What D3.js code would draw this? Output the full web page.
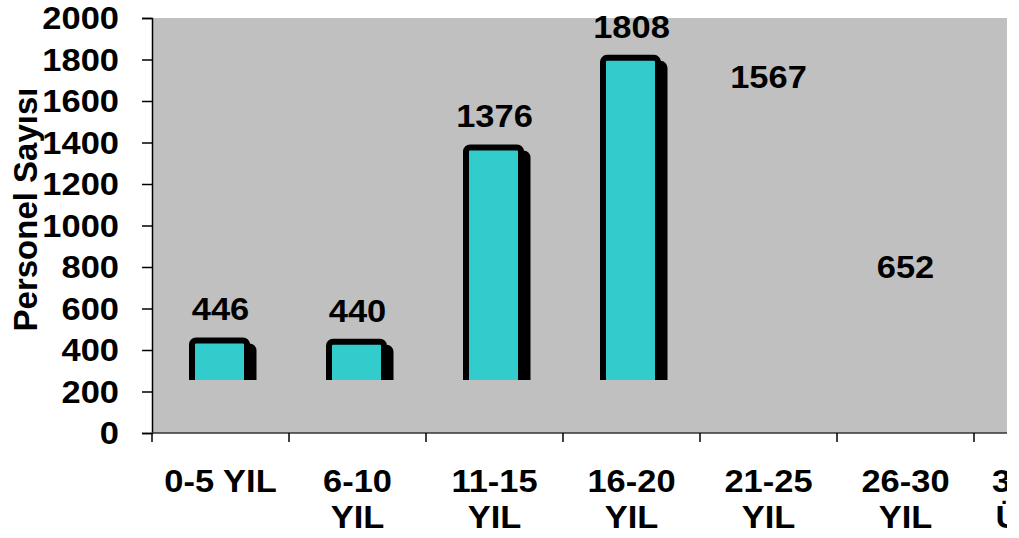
<!DOCTYPE html>
<html>
<head>
<meta charset="utf-8">
<script src="https://cdn.jsdelivr.net/npm/d3@7"></script>
<style>
  body { margin: 0; background: #fff; }
  text { font-family: Arial, "Liberation Sans", sans-serif; font-weight: bold; fill: #000; }
</style>
</head>
<body>
<div id="chart"></div>
<script>
// chart data
var categories = ["0-5 YIL", "6-10 YIL", "11-15 YIL", "16-20 YIL", "21-25 YIL", "26-30 YIL", "30 YIL ÜSTÜ"];
var values = [446, 440, 1376, 1808, 1567, 652, null];
var barShown = [true, true, true, true, false, false, false];
var yTicks = [0, 200, 400, 600, 800, 1000, 1200, 1400, 1600, 1800, 2000];
var yTitle = "Personel Sayısı";

var svg_width = 1019;
var svg_height = 538;
var sx = 1.13; // text in the picture is a bit wider than normal

var margin = { top: 18, left: 152 };
var bandW = 137;
var chartHeight = 415;

var svg = d3.select("#chart")
    .append("svg")
    .attr("width", svg_width)
    .attr("height", svg_height);

svg.append("clipPath").attr("id", "cut")
    .append("rect").attr("x", 0).attr("y", 0).attr("width", 1007).attr("height", svg_height);

var root = svg.append("g").attr("clip-path", "url(#cut)");

// scales
var xScale = d3.scaleBand()
    .domain(categories)
    .range([margin.left, margin.left + bandW * categories.length])
    .padding(0);

var yScale = d3.scaleLinear()
    .domain([0, 2000])
    .range([margin.top + chartHeight, margin.top]);

var y0 = yScale(0);

// plot background
root.append("rect")
    .attr("x", margin.left)
    .attr("y", margin.top)
    .attr("width", 1007 - margin.left)
    .attr("height", chartHeight)
    .attr("fill", "#c0c0c0");

// y axis
var left_axis = d3.axisLeft(yScale).tickValues(yTicks).tickSize(10).tickFormat("");
root.append("g")
    .attr("transform", `translate(${margin.left}, 0)`)
    .call(left_axis)
    .call(g => g.selectAll("path, line").attr("stroke", "#000").attr("stroke-width", 1.5));

root.append("g").selectAll("text")
    .data(yTicks)
    .enter()
    .append("text")
    .attr("transform", d => `translate(119, ${yScale(d) + 11}) scale(${sx},1)`)
    .attr("text-anchor", "end")
    .attr("font-size", 30.5)
    .text(d => d);

// x axis: line and ticks on band edges
root.append("line")
    .attr("x1", margin.left).attr("x2", 1007)
    .attr("y1", y0).attr("y2", y0)
    .attr("stroke", "#333").attr("stroke-width", 1.5);

var edges = categories.map(c => xScale(c)).concat([xScale.range()[1]]);
root.append("g").selectAll("line")
    .data(edges)
    .enter()
    .append("line")
    .attr("x1", d => d).attr("x2", d => d)
    .attr("y1", y0).attr("y2", y0 + 9)
    .attr("stroke", "#000").attr("stroke-width", 1.5);

// category labels, wrapped to the band width
function wrapLabel(label, maxW) {
    var words = label.split(" ");
    var lines = [];
    var cur = "";
    var probe = svg.append("text").attr("font-size", 30.5);
    words.forEach(function(w) {
        var test = cur ? cur + " " + w : w;
        probe.text(test);
        if (cur && probe.node().getComputedTextLength() * sx > maxW) {
            lines.push(cur);
            cur = w;
        } else {
            cur = test;
        }
    });
    lines.push(cur);
    probe.remove();
    return lines;
}

categories.forEach(function(c) {
    var lines = wrapLabel(c, 125);
    var cx = xScale(c) + bandW / 2;
    lines.forEach(function(line, i) {
        root.append("text")
            .attr("transform", `translate(${cx}, ${492 + i * 36}) scale(${sx},1)`)
            .attr("text-anchor", "middle")
            .attr("font-size", 30.5)
            .text(line);
    });
});

// bars (the drawn bars stop short of the axis in the picture)
var barFloor = yScale(255);
svg.append("clipPath").attr("id", "floor")
    .append("rect").attr("x", 0).attr("y", 0).attr("width", svg_width).attr("height", barFloor);

var barW = 55;
var barData = categories.map((c, i) => ({ cat: c, value: values[i], shown: barShown[i] }))
    .filter(d => d.shown && d.value != null);

var barsGrp = root.append("g").attr("clip-path", "url(#floor)");

// shadow
barsGrp.selectAll("rect.shadow")
    .data(barData)
    .enter()
    .append("rect")
    .attr("class", "shadow")
    .attr("x", d => xScale(d.cat) + bandW / 2 - 1 - barW / 2 + 6.5)
    .attr("y", d => yScale(d.value) + 6)
    .attr("width", barW)
    .attr("height", d => y0 - yScale(d.value))
    .attr("rx", 4)
    .attr("fill", "#000")
    .attr("stroke", "#000")
    .attr("stroke-width", 6);

barsGrp.selectAll("rect.bar")
    .data(barData)
    .enter()
    .append("rect")
    .attr("class", "bar")
    .attr("x", d => xScale(d.cat) + bandW / 2 - 1 - barW / 2)
    .attr("y", d => yScale(d.value))
    .attr("width", barW)
    .attr("height", d => y0 - yScale(d.value))
    .attr("rx", 4)
    .attr("fill", "#33cccc")
    .attr("stroke", "#000")
    .attr("stroke-width", 6);

// value labels
root.append("g").selectAll("text")
    .data(categories.map((c, i) => ({ cat: c, value: values[i] })).filter(d => d.value != null))
    .enter()
    .append("text")
    .attr("transform", d => `translate(${xScale(d.cat) + bandW / 2}, ${yScale(d.value) - 20}) scale(${sx},1)`)
    .attr("text-anchor", "middle")
    .attr("font-size", 30.5)
    .text(d => d.value);

// y axis title
svg.append("text")
    .attr("transform", "translate(36.5, 209.5) rotate(-90)")
    .attr("text-anchor", "middle")
    .attr("font-size", 33)
    .text(yTitle);
</script>
</body>
</html>
